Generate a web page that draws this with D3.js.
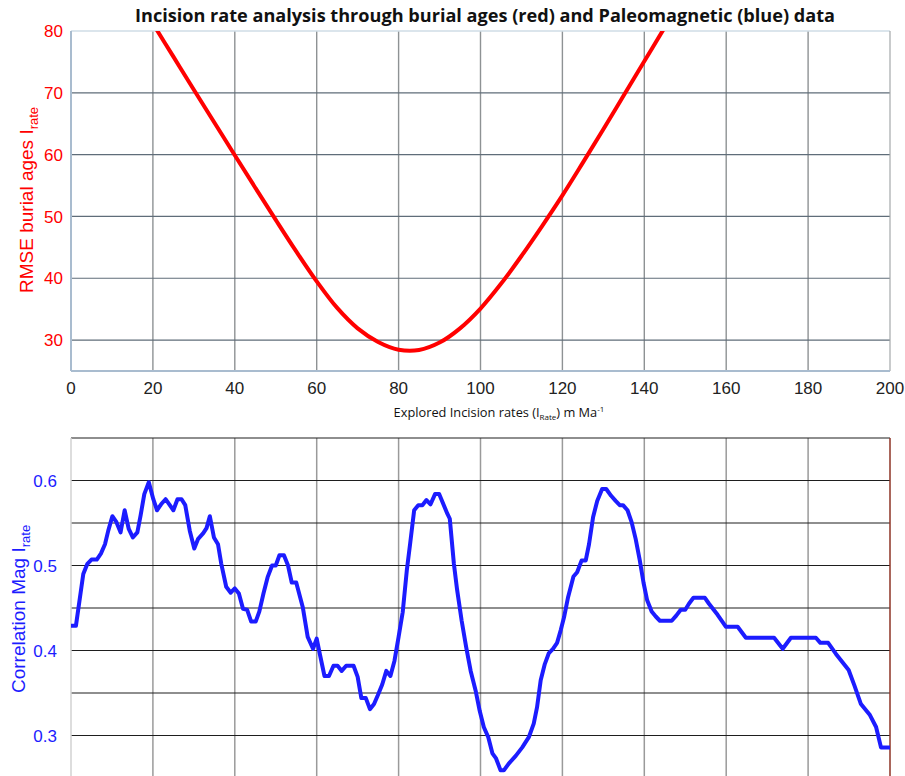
<!DOCTYPE html>
<html>
<head>
<meta charset="utf-8">
<script src="https://cdn.jsdelivr.net/npm/d3@7"></script>
<style>
body{margin:0;background:#fff;}
svg{display:block;}
text{font-family:"Liberation Sans",Arial,sans-serif;}
</style>
</head>
<body>
<div id="chart"></div>
<script>
// explored incision rates, shared x axis for both panels
const xTicks=[0,20,40,60,80,100,120,140,160,180,200];
// RMSE of burial ages (red)
const rmseX=[20,25,30,35,40,45,50,55,60,65,70,75,80,85,90,95,100,105,110,115,120,125,130,135,140,145];
const rmseY=[81.2,75.85,70.5,65.2,59.9,54.65,49.45,44.35,39.5,35.2,31.9,29.7,28.45,28.4,29.6,31.9,35.1,39.1,43.6,48.4,53.4,58.7,64.1,69.6,75.1,80.6];
const rmseTicks=[30,40,50,60,70,80];
const rmseGrid=[30,40,50,60,70];
// paleomagnetic correlation magnitude (blue)
const corrX=[0,1.2,3,4,5,6.3,7.3,8.3,9.1,10.1,11.1,12.1,13.1,14.1,15.1,16.2,17,17.9,19,20.1,21,22,23.1,24,25,26,27,27.9,29,30.1,31,32.3,33.1,33.9,34.9,35.9,36.7,37.9,39,40,41,42,43,44,45.1,46,47,48,49.1,50,50.9,52,53,53.9,55,56.6,57.8,59.1,60,60.8,61.9,63,64.1,65.1,66.1,67.2,69,70,70.9,72,73,74,74.9,76,77,78,79,80,81,82,82.8,83.8,84.8,85.8,86.8,87.8,88.9,89.9,91.9,92.5,93.5,94.3,95.4,96.5,97.6,98.8,99.8,100.8,101.9,102.9,103.8,104.9,105.7,106.9,108.6,110.2,111.8,113,113.8,114.7,115.7,116.7,117.7,118.7,119.6,120.4,121.4,122.7,123.6,124.7,125.7,126.5,127.5,128.5,129.7,130.7,131.9,133,134,134.8,135.9,136.9,137.9,138.9,139.8,140.7,141.8,142.8,143.8,146.7,147.8,148.9,150,150.9,152,154.8,155.8,157.9,159.9,162.8,164.8,171.7,173.8,175.8,181.9,183,184.9,186.8,189.9,191.3,192.9,195.1,196.6,197.8,200];
const corrY=[.429,.429,.49,.502,.507,.507,.514,.525,.541,.558,.551,.539,.565,.543,.533,.539,.559,.584,.598,.578,.565,.572,.578,.572,.565,.578,.578,.571,.541,.520,.531,.538,.544,.558,.533,.525,.502,.475,.468,.473,.467,.449,.448,.434,.434,.446,.467,.486,.500,.500,.512,.512,.500,.480,.480,.451,.416,.402,.414,.395,.370,.370,.382,.382,.376,.382,.382,.369,.344,.344,.331,.337,.347,.360,.376,.370,.388,.416,.445,.494,.525,.565,.571,.571,.577,.572,.584,.584,.561,.555,.502,.471,.435,.404,.376,.353,.329,.310,.298,.279,.273,.259,.259,.267,.276,.286,.298,.314,.333,.365,.384,.397,.402,.409,.424,.439,.463,.487,.492,.506,.506,.525,.557,.576,.590,.590,.582,.576,.571,.571,.565,.551,.531,.506,.480,.459,.446,.440,.435,.435,.441,.448,.448,.455,.462,.462,.455,.442,.428,.428,.415,.415,.402,.415,.415,.409,.409,.396,.377,.359,.337,.324,.310,.286,.286];
const corrTicks=[0.3,0.4,0.5,0.6];
const corrGrid=[0.3,0.35,0.4,0.45,0.5,0.55,0.6,0.65];

const W=905,H=776;
const svg=d3.select('#chart').append('svg').attr('width',W).attr('height',H);
const x=d3.scaleLinear().domain([0,200]).range([71,890]);
const yT=d3.scaleLinear().domain([25,80]).range([371,31]);
const yB=d3.scaleLinear().domain([0.25,0.65]).range([778,438]);

svg.append('text').attr('x',485).attr('y',22).attr('text-anchor','middle')
  .style('font-family','"Open Sans",sans-serif').style('font-weight','bold').style('font-size','17px')
  .attr('textLength',700).attr('lengthAdjust','spacingAndGlyphs').attr('fill','#111')
  .text('Incision rate analysis through burial ages (red) and Paleomagnetic (blue) data');

// ---- top panel
const gTop=svg.append('g');
gTop.selectAll('line.vg').data(xTicks.slice(1,-1)).enter().append('line')
  .attr('x1',d=>x(d)).attr('x2',d=>x(d)).attr('y1',yT(80)).attr('y2',yT(25))
  .attr('stroke','#8e9294').attr('stroke-width',1.4);
gTop.selectAll('line.hg').data(rmseGrid).enter().append('line')
  .attr('x1',x(0)).attr('x2',x(200)).attr('y1',d=>yT(d)).attr('y2',d=>yT(d))
  .attr('stroke','#5f6d79').attr('stroke-width',1.2);
gTop.append('line').attr('x1',x(0)).attr('x2',x(200)).attr('y1',yT(80)).attr('y2',yT(80)).attr('stroke','#cfdde6').attr('stroke-width',1.5);
gTop.append('line').attr('x1',x(200)).attr('x2',x(200)).attr('y1',yT(80)).attr('y2',yT(25)).attr('stroke','#a4a8aa').attr('stroke-width',1.2);
gTop.append('line').attr('x1',x(0)).attr('x2',x(200)).attr('y1',yT(25)).attr('y2',yT(25)).attr('stroke','#a9bccf').attr('stroke-width',2);
gTop.append('line').attr('x1',x(0)).attr('x2',x(0)).attr('y1',yT(80)).attr('y2',yT(25)).attr('stroke','#a9bccf').attr('stroke-width',2);

svg.append('clipPath').attr('id','clipTop').append('rect').attr('x',71).attr('y',31).attr('width',819).attr('height',340);
const rmse=rmseX.map((v,i)=>[v,rmseY[i]]);
gTop.append('path').attr('clip-path','url(#clipTop)').attr('d',d3.line().x(d=>x(d[0])).y(d=>yT(d[1])).curve(d3.curveCatmullRom)(rmse))
  .attr('fill','none').attr('stroke','#ff0000').attr('stroke-width',4);

gTop.selectAll('text.yt').data(rmseTicks).enter().append('text')
  .attr('x',63).attr('y',d=>yT(d)).attr('dy','0.36em').attr('text-anchor','end')
  .attr('fill','#ff0000').style('font-size','17px').text(d=>d);
gTop.selectAll('text.xt').data(xTicks).enter().append('text')
  .attr('x',d=>x(d)).attr('y',394).attr('text-anchor','middle')
  .attr('fill','#222').style('font-size','17px').text(d=>d);

const yl1=gTop.append('text').attr('transform','translate(33,293) rotate(-90)').attr('fill','#ff0000').style('font-size','19px');
yl1.append('tspan').text('RMSE burial ages I');
yl1.append('tspan').attr('dy',5).style('font-size','13px').text('rate');

const xl=svg.append('text').attr('x',499).attr('y',417).attr('text-anchor','middle').attr('fill','#111')
  .style('font-family','"Open Sans",sans-serif').style('font-size','12.8px');
xl.append('tspan').text('Explored Incision rates (I');
xl.append('tspan').attr('dy',3).style('font-size','8px').text('Rate');
xl.append('tspan').attr('dy',-3).text(') m Ma');
xl.append('tspan').attr('dy',-5).style('font-size','8px').text('-1');

// ---- bottom panel
const gBot=svg.append('g');
gBot.selectAll('line.vg').data(xTicks.slice(1,-1)).enter().append('line')
  .attr('x1',d=>x(d)).attr('x2',d=>x(d)).attr('y1',yB(0.65)).attr('y2',H)
  .attr('stroke','#9a9a9a').attr('stroke-width',1.5);
gBot.selectAll('line.hg').data(corrGrid).enter().append('line')
  .attr('x1',x(0)).attr('x2',x(200)).attr('y1',d=>yB(d)).attr('y2',d=>yB(d))
  .attr('stroke','#1e1e1e').attr('stroke-width',1.2);
gBot.append('line').attr('x1',x(0)).attr('x2',x(0)).attr('y1',yB(0.65)).attr('y2',H).attr('stroke','#d2d2d2').attr('stroke-width',1.5);
gBot.append('line').attr('x1',x(200)).attr('x2',x(200)).attr('y1',yB(0.65)).attr('y2',H).attr('stroke','#8e3324').attr('stroke-width',1.5);

const corr=corrX.map((v,i)=>[v,corrY[i]]);
gBot.append('path').attr('d',d3.line().x(d=>x(d[0])).y(d=>yB(d[1]))(corr))
  .attr('fill','none').attr('stroke','#1c1cff').attr('stroke-width',4).attr('stroke-linejoin','round');

gBot.selectAll('text.yt').data(corrTicks).enter().append('text')
  .attr('x',57).attr('y',d=>yB(d)).attr('dy','0.36em').attr('text-anchor','end')
  .attr('fill','#1c1cff').style('font-size','17px').text(d=>d.toFixed(1));

const yl2=gBot.append('text').attr('transform','translate(25,693) rotate(-90)').attr('fill','#1c1cff').style('font-size','19px');
yl2.append('tspan').text('Correlation Mag I');
yl2.append('tspan').attr('dy',5).style('font-size','13px').text('rate');
</script>
</body>
</html>
